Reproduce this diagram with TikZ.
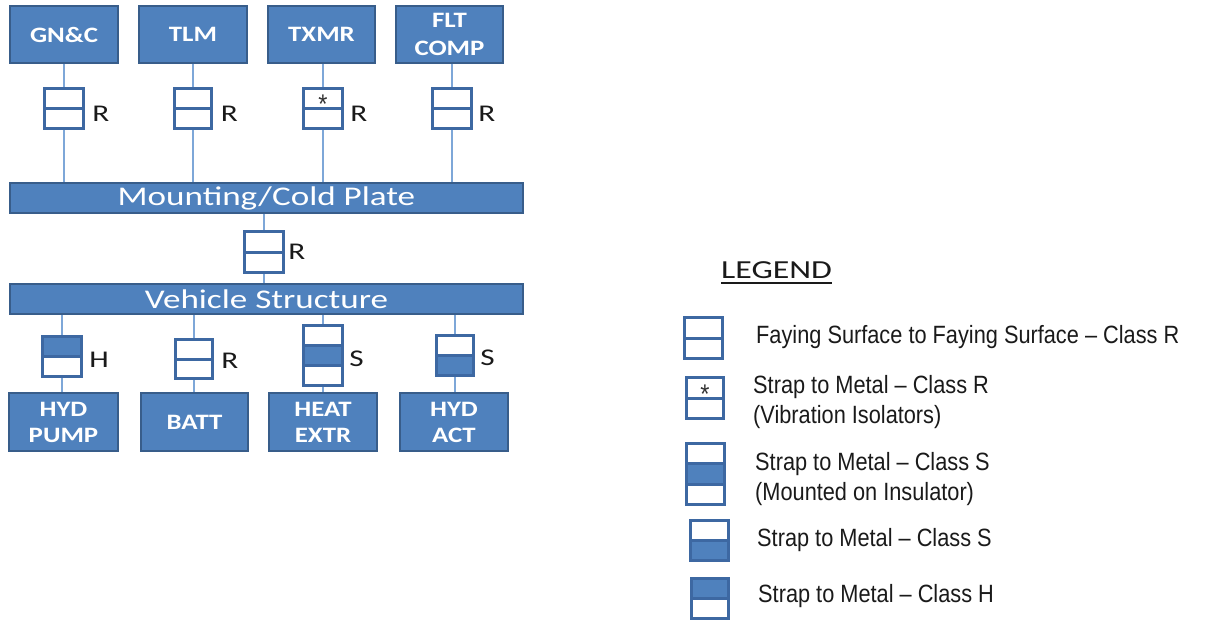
\documentclass[tikz,border=0pt]{standalone}
\usepackage{fontspec}
\usetikzlibrary{calc}
\newfontfamily\Lreg[FakeStretch=1.3]{Carlito}
\newfontfamily\Lbold[FakeStretch=1.22]{Carlito}
\newfontfamily\Leg[FakeStretch=0.87]{Liberation Sans}
\definecolor{bfill}{HTML}{4F81BD}
\definecolor{bline}{HTML}{385D8A}
\definecolor{bondc}{HTML}{3D68A2}
\definecolor{connc}{HTML}{7EA7D8}
\definecolor{txt}{HTML}{1A1A1A}
\tikzset{
  blk/.style={draw=bline, line width=1.5, fill=bfill, text=white, inner sep=0,
    align=center, font=\Lbold\bfseries\fontsize{22}{26}\selectfont},
  barbox/.style={draw=bline, line width=1.5, fill=bfill, text=white, inner sep=0,
    minimum width=513, minimum height=30, font=\Lreg\fontsize{27}{30}\selectfont},
  conn/.style={draw=connc, line width=2},
  bondn/.style={inner sep=0, fill=white},
  bondd/.style={draw=bondc, line width=3},
  lbl/.style={font=\Lreg\fontsize{24}{28}\selectfont, inner sep=0, text=txt, anchor=west},
  starsym/.style={font=\Leg\fontsize{27}{30}\selectfont, inner sep=0, text=black!80, yshift=-6},
  legtxt/.style={font=\Leg\fontsize{25}{30}\selectfont, inner sep=0, anchor=base west, text=txt},
}
\newcommand\bondbox[5]{%
  \node[bondn, minimum width=#3, minimum height=#4] (#1) at (#2) {};
  \ifcase#5
    \draw[bondd] (#1.west) -- (#1.east);
  \or
    \draw[bondd] (#1.west) -- (#1.east);
    \node[starsym] (#1s) at ($(#1.north)!0.5!(#1.center)$) {*};
  \or
    \fill[bfill] (#1.north west) rectangle (#1.east);
    \draw[bondd] (#1.west) -- (#1.east);
  \or
    \fill[bfill] (#1.west) rectangle (#1.south east);
    \draw[bondd] (#1.west) -- (#1.east);
  \or
    \fill[bfill] ($(#1.north west)!1/3!(#1.south west)$) rectangle ($(#1.north east)!2/3!(#1.south east)$);
    \draw[bondd] ($(#1.north west)!1/3!(#1.south west)$) -- ($(#1.north east)!1/3!(#1.south east)$);
    \draw[bondd] ($(#1.north west)!2/3!(#1.south west)$) -- ($(#1.north east)!2/3!(#1.south east)$);
  \fi
  \draw[bondd] (#1.north west) rectangle (#1.south east);
}
\begin{document}
\begin{tikzpicture}[x=1pt, y=-1pt]
\useasboundingbox (0,0) rectangle (1232,622);
% top units
\node[blk, minimum width=108, minimum height=57] (gnc) at (64,34.5) {GN\&C};
\node[blk, minimum width=108, minimum height=57] (tlm) at (193,34.5) {TLM};
\node[blk, minimum width=107, minimum height=57] (txmr) at (321.5,34.5) {TXMR};
\node[blk, minimum width=107, minimum height=57, font=\Lbold\bfseries\fontsize{22}{28}\selectfont] (flt) at (449.5,34.5) {FLT\\COMP};
% bars
\node[barbox] (cold) at (266.5,198) {Mounting/Cold Plate};
\node[barbox] (veh) at (266.5,299) {Vehicle Structure};
% bottom units
\node[blk, minimum width=109, minimum height=58] (hp) at (63.5,422) {HYD\\PUMP};
\node[blk, minimum width=107, minimum height=58] (batt) at (194.5,422) {BATT};
\node[blk, minimum width=108, minimum height=58] (heat) at (323,422) {HEAT\\EXTR};
\node[blk, minimum width=108, minimum height=58] (act) at (454,422) {HYD\\ACT};
% connectors drawn first (under bond boxes)
\coordinate (t1p) at (64,108.5);
\coordinate (t2p) at (193,108.5);
\coordinate (t3p) at (323,108.5);
\coordinate (t4p) at (452,108.5);
\coordinate (mp) at (264,252);
\coordinate (b1p) at (62,356.5);
\coordinate (b2p) at (194,359);
\coordinate (b3p) at (323,355.5);
\coordinate (b4p) at (455,355.5);
\foreach \p/\u in {t1p/gnc,t2p/tlm,t3p/txmr,t4p/flt}{
  \draw[conn] (\p |- \u.south) -- (\p |- cold.north);
}
\draw[conn] (mp |- cold.south) -- (mp |- veh.north);
\foreach \p/\u in {b1p/hp,b2p/batt,b3p/heat,b4p/act}{
  \draw[conn] (\p |- veh.south) -- (\p |- \u.north);
}
% bond boxes
\bondbox{t1}{t1p}{38}{39}{0}
\bondbox{t2}{t2p}{37}{39}{0}
\bondbox{t3}{t3p}{38}{39}{1}
\bondbox{t4}{t4p}{38}{39}{0}
\bondbox{m}{mp}{38}{40}{0}
\bondbox{b1}{b1p}{38}{39}{2}
\bondbox{b2}{b2p}{36}{38}{0}
\bondbox{b3}{b3p}{38}{59}{4}
\bondbox{b4}{b4p}{37}{39}{3}
% class labels
\node[lbl] (t1l) at ([xshift=9,yshift=-5.5]t1.east) {R};
\node[lbl] (t2l) at ([xshift=9,yshift=-5.5]t2.east) {R};
\node[lbl] (t3l) at ([xshift=8,yshift=-5.5]t3.east) {R};
\node[lbl] (t4l) at ([xshift=7,yshift=-5.5]t4.east) {R};
\node[lbl] (ml) at ([xshift=5,yshift=0]m.east) {R};
\node[lbl] (b1l) at ([xshift=8,yshift=-3]b1.east) {H};
\node[lbl] (b2l) at ([xshift=9,yshift=-1.5]b2.east) {R};
\node[lbl] (b3l) at ([xshift=7,yshift=-3]b3.east) {S};
\node[lbl] (b4l) at ([xshift=6.5,yshift=-2.5]b4.east) {S};
% legend
\node[font=\Lreg\fontsize{26}{30}\selectfont, inner sep=0, anchor=base west, text=txt] (leg) at (721,278) {LEGEND};
\draw[line width=1.8, txt] ([yshift=-5]leg.base west) -- ([yshift=-5]leg.base east);
\bondbox{L1}{703.5,338}{37}{40}{0}
\bondbox{L2}{705,398}{36}{40}{1}
\bondbox{L3}{705.5,474}{37}{60}{4}
\bondbox{L4}{709.5,540.5}{37}{39}{3}
\bondbox{L5}{710,598.5}{36}{39}{2}
\node[legtxt] (lg1) at (756,343) {Faying Surface to Faying Surface – Class R};
\node[legtxt] (lg2a) at (753,393) {Strap to Metal – Class R};
\node[legtxt] (lg2b) at (753,423) {(Vibration Isolators)};
\node[legtxt] (lg3a) at (755,470) {Strap to Metal – Class S};
\node[legtxt] (lg3b) at (755,500) {(Mounted on Insulator)};
\node[legtxt] (lg4) at (757,546) {Strap to Metal – Class S};
\node[legtxt] (lg5) at (758,602) {Strap to Metal – Class H};
\end{tikzpicture}
\end{document}
